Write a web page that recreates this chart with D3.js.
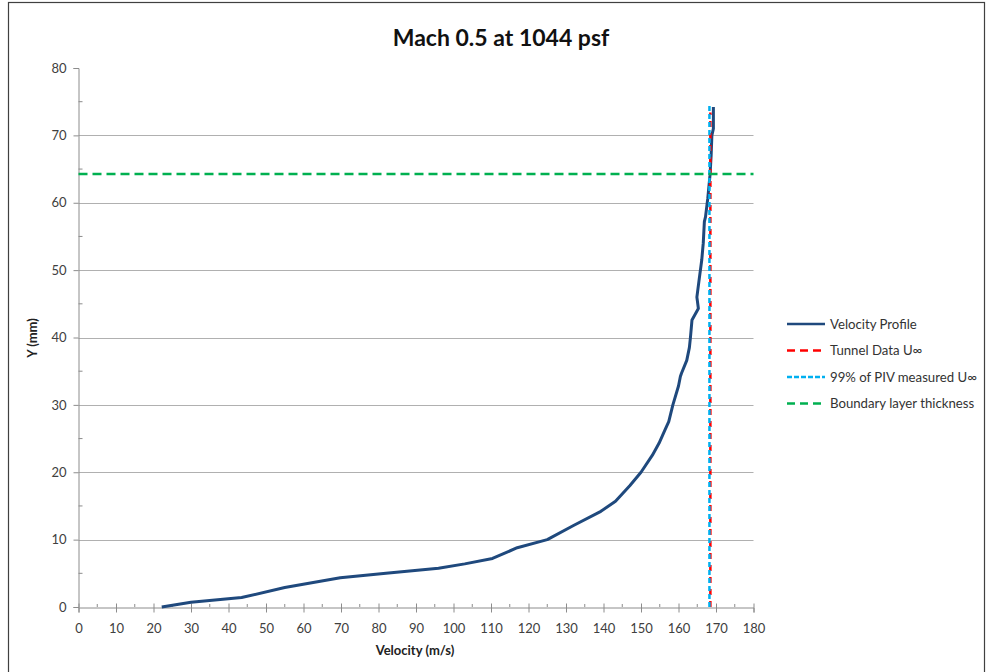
<!DOCTYPE html>
<html>
<head>
<meta charset="utf-8">
<script src="https://cdn.jsdelivr.net/npm/d3@7"></script>
<style>
  body { margin: 0; background: #fff; }
  svg { display: block; font-family: Lato, "Open Sans", sans-serif; }
</style>
</head>
<body>
<div id="chart"></div>
<script>
// velocity profile (m/s vs mm)
const velocity = [22.2, 30, 43.5, 55, 69.8, 82, 96, 103, 110.4, 117, 125, 132, 139.3, 143.2, 147, 150, 153, 154.8,
  156.4, 157.4, 158.5, 160, 160.5, 160.8, 162.2, 162.9, 163.2, 163.6, 165.3, 164.9, 165.6, 166.2, 166.6, 166.9,
  167.2, 167.8, 168.4, 168.7, 168.9, 169.3, 169.3];
const yPos = [0, 0.7, 1.4, 2.9, 4.35, 5.0, 5.74, 6.4, 7.2, 8.8, 10.0, 12.1, 14.2, 15.7, 18.0, 20.0, 22.5, 24.3,
  26.3, 27.5, 30.0, 32.8, 34.2, 34.7, 36.6, 38.5, 40.1, 42.6, 44.3, 46.0, 49.0, 51.5, 54.0, 57.2,
  57.9, 60.6, 64.1, 67.0, 70.0, 71.0, 74.2];

const tunnelU = 168.5;       // Tunnel Data U∞
const pivU99 = 168.25;       // 99% of PIV measured U∞
const refLineTop = 74;       // vertical reference lines run 0 .. 74 mm
const boundaryThickness = 64.25;

const xTicks = d3.range(0, 181, 10);
const yTicks = d3.range(0, 81, 10);

const legendLabels = ["Velocity Profile", "Tunnel Data U\u221E", "99% of PIV measured U\u221E", "Boundary layer thickness"];

const width = 987, height = 672;
const plotLeft = 78.5, plotRight = 753.5, plotTop = 68, plotBottom = 607;

const svg = d3.select("#chart").append("svg")
  .attr("width", width)
  .attr("height", height);

// outer frame
svg.append("rect")
  .attr("x", 8.5).attr("y", 2.5)
  .attr("width", 976).attr("height", 680)
  .attr("fill", "none")
  .attr("stroke", "#404040")
  .attr("stroke-width", 1.2);

const x = d3.scaleLinear().domain([0, 180]).range([plotLeft, plotRight]);
const y = d3.scaleLinear().domain([0, 80]).range([plotBottom, plotTop]);

// gridlines
svg.append("g")
  .selectAll("line")
  .data(yTicks.filter(d => d > 0 && d < 80))
  .enter().append("line")
  .attr("x1", plotLeft).attr("x2", plotRight)
  .attr("y1", d => Math.round(y(d)) + 0.5)
  .attr("y2", d => Math.round(y(d)) + 0.5)
  .attr("stroke", "#b0b0b0")
  .attr("stroke-width", 1);

// x axis
const xAxis = svg.append("g")
  .attr("transform", `translate(0,${plotBottom + 0.5})`)
  .call(d3.axisBottom(x).tickValues(xTicks).tickSize(5).tickPadding(11).tickFormat(d3.format("d")));
xAxis.select(".domain").attr("stroke", "#8c8c8c");
xAxis.selectAll(".tick line").attr("stroke", "#8c8c8c").attr("y1", -4);
xAxis.selectAll("text").attr("font-size", "13px").attr("fill", "#404040").attr("font-family", "Lato");

// x minor ticks
svg.append("g")
  .selectAll("line")
  .data(d3.range(5, 180, 10))
  .enter().append("line")
  .attr("x1", d => x(d)).attr("x2", d => x(d))
  .attr("y1", plotBottom - 3).attr("y2", plotBottom)
  .attr("stroke", "#8c8c8c");

// y axis
const yAxis = svg.append("g")
  .attr("transform", `translate(${plotLeft},0)`)
  .call(d3.axisLeft(y).tickValues(yTicks).tickSize(5).tickPadding(7));
yAxis.select(".domain").attr("stroke", "#8c8c8c");
yAxis.selectAll(".tick line").attr("stroke", "#8c8c8c");
yAxis.selectAll("text").attr("font-size", "13px").attr("fill", "#404040").attr("font-family", "Lato");

// y minor ticks
svg.append("g")
  .selectAll("line")
  .data(d3.range(5, 80, 10))
  .enter().append("line")
  .attr("x1", plotLeft).attr("x2", plotLeft + 4)
  .attr("y1", d => y(d)).attr("y2", d => y(d))
  .attr("stroke", "#8c8c8c");

// title and axis titles
svg.append("text")
  .attr("x", 501).attr("y", 46)
  .attr("text-anchor", "middle")
  .attr("font-size", "23px")
  .attr("font-weight", "bold")
  .attr("fill", "#111")
  .text("Mach 0.5 at 1044 psf");

svg.append("text")
  .attr("x", 415).attr("y", 655)
  .attr("text-anchor", "middle")
  .attr("font-size", "13px")
  .attr("font-weight", "bold")
  .attr("fill", "#222")
  .text("Velocity (m/s)");

svg.append("text")
  .attr("transform", "translate(37,338) rotate(-90)")
  .attr("text-anchor", "middle")
  .attr("font-size", "13px")
  .attr("font-weight", "bold")
  .attr("fill", "#222")
  .text("Y (mm)");

// velocity profile
const profile = velocity.map((v, i) => [v, yPos[i]]);
svg.append("path")
  .datum(profile)
  .attr("d", d3.line().x(d => x(d[0])).y(d => y(d[1])))
  .attr("fill", "none")
  .attr("stroke", "#1f497d")
  .attr("stroke-width", 3)
  .attr("stroke-linejoin", "round");

// tunnel U∞
svg.append("line")
  .attr("x1", x(tunnelU)).attr("x2", x(tunnelU))
  .attr("y1", y(0)).attr("y2", y(refLineTop - 0.6))
  .attr("stroke", "#ff0000")
  .attr("stroke-width", 2.5)
  .attr("stroke-dasharray", "6,6");

// 99% PIV U∞
svg.append("line")
  .attr("x1", x(pivU99)).attr("x2", x(pivU99))
  .attr("y1", y(0)).attr("y2", y(refLineTop + 0.5))
  .attr("stroke", "#00b0f0")
  .attr("stroke-width", 2.5)
  .attr("stroke-dasharray", "5,3");

// boundary layer thickness
svg.append("line")
  .attr("x1", plotLeft).attr("x2", plotRight)
  .attr("y1", y(boundaryThickness)).attr("y2", y(boundaryThickness))
  .attr("stroke", "#00b050")
  .attr("stroke-width", 2.5)
  .attr("stroke-dasharray", "9,5");

// legend
const legendStyles = [
  { color: "#1f497d", dash: null },
  { color: "#ff0000", dash: "8,5" },
  { color: "#00b0f0", dash: "5,2" },
  { color: "#00b050", dash: "8,5" }
];
const legend = svg.append("g").attr("transform", "translate(787,324)");
legend.selectAll("line")
  .data(legendStyles)
  .enter().append("line")
  .attr("x1", 0).attr("x2", 38)
  .attr("y1", (d, i) => i * 26.5).attr("y2", (d, i) => i * 26.5)
  .attr("stroke", d => d.color)
  .attr("stroke-width", 2.5)
  .attr("stroke-dasharray", d => d.dash);
legend.selectAll("text")
  .data(legendLabels)
  .enter().append("text")
  .attr("x", 43)
  .attr("y", (d, i) => i * 26.5 + 4.5)
  .attr("font-size", "13.2px")
  .attr("fill", "#333")
  .text(d => d);
</script>
</body>
</html>
